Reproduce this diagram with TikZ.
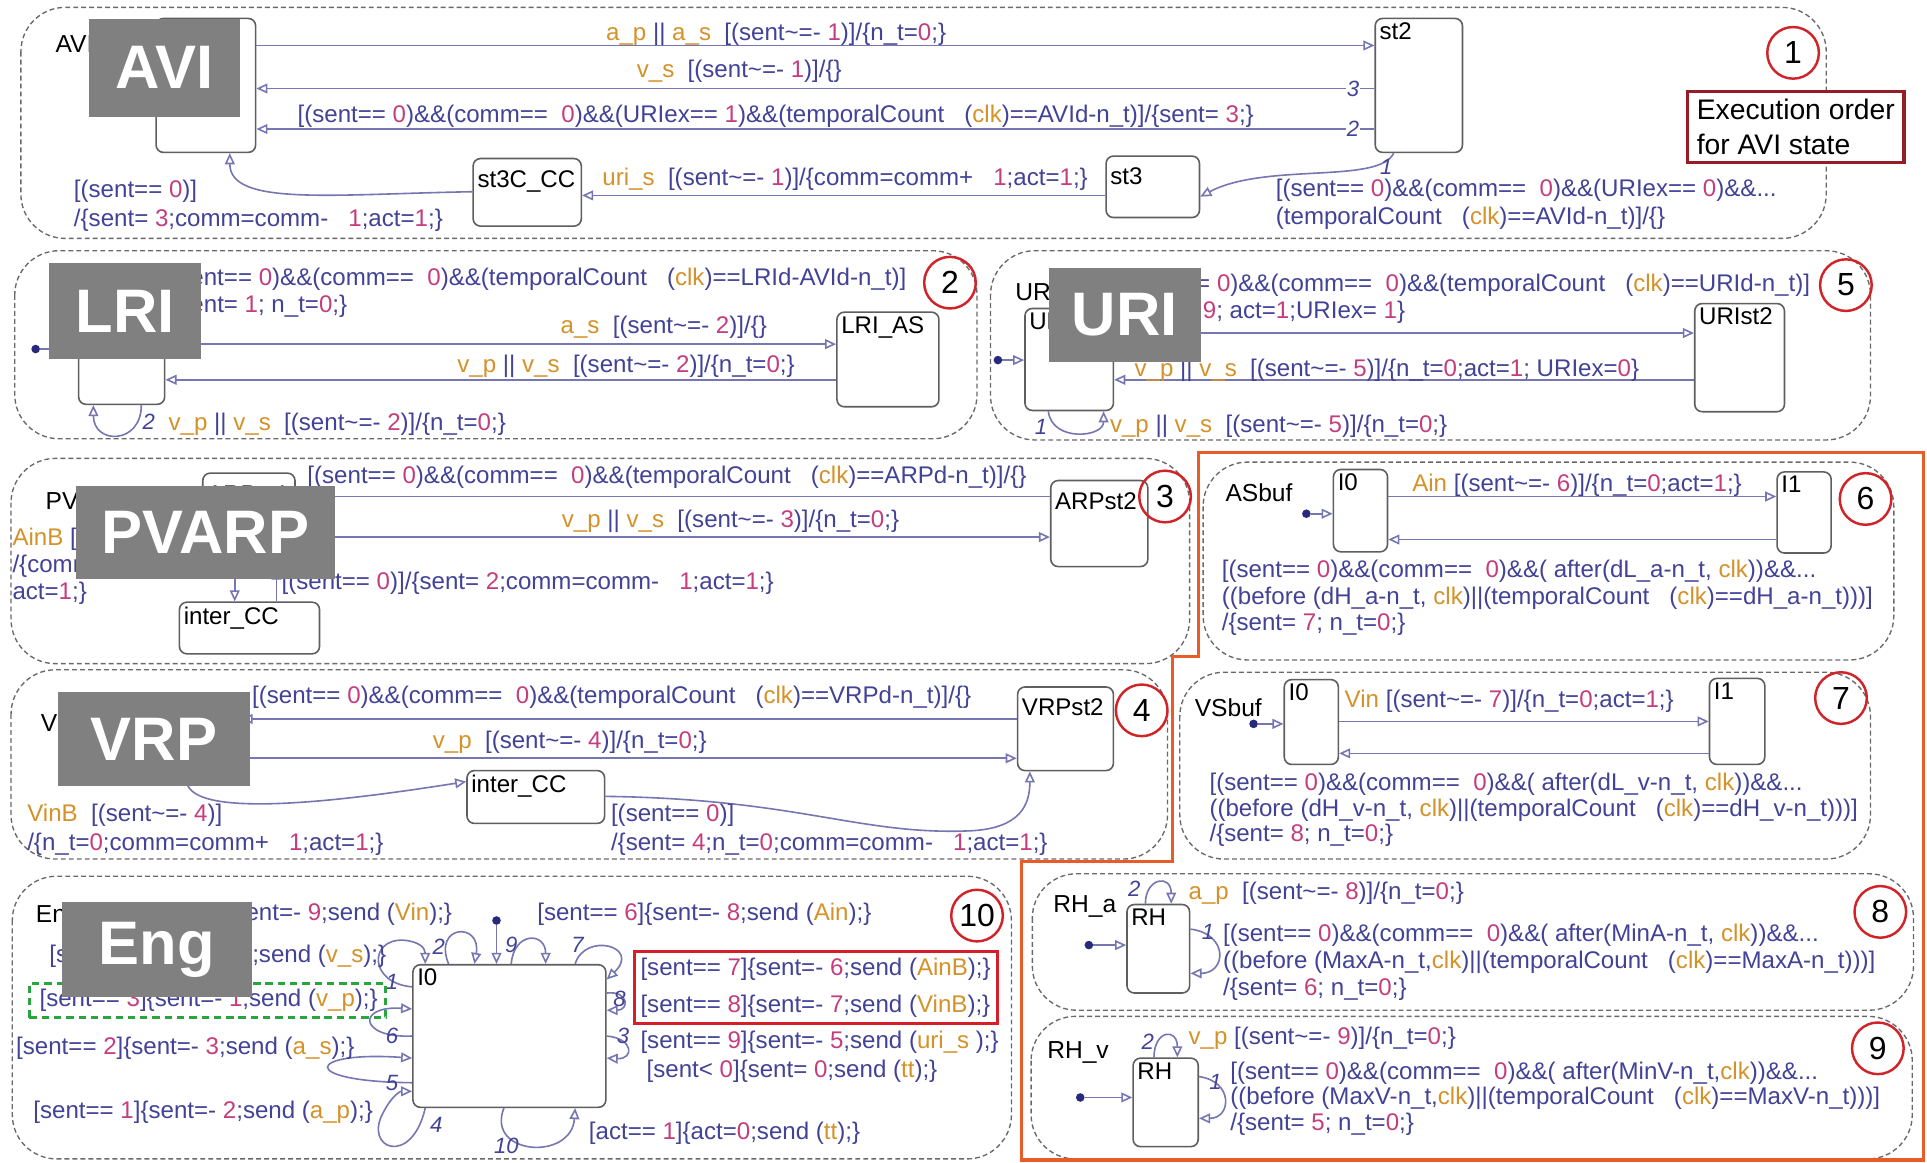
\documentclass[tikz,border=0pt]{standalone}
\usepackage{fontspec}
\setmainfont{Liberation Sans}
\usetikzlibrary{arrows.meta,fit}

\definecolor{txtb}{RGB}{66,66,150}
\definecolor{numc}{RGB}{196,62,126}
\definecolor{evc}{RGB}{212,146,42}
\definecolor{trc}{RGB}{118,118,178}
\definecolor{dashc}{RGB}{105,105,105}
\definecolor{stc}{RGB}{95,95,95}
\definecolor{ringc}{RGB}{208,36,40}
\definecolor{execc}{RGB}{150,28,40}
\definecolor{hlred}{RGB}{214,30,40}
\definecolor{frameor}{RGB}{232,92,40}
\definecolor{hlgreen}{RGB}{40,165,60}
\definecolor{tagc}{RGB}{128,128,128}
\definecolor{dotc}{RGB}{40,40,125}

\newcommand\ev[1]{\textcolor{evc}{#1}}
\newcommand\nm[1]{\textcolor{numc}{#1}}
\newcommand\tld{\textasciitilde}
\newcommand\lblsize{\fontsize{19.6}{23}\selectfont}

\tikzset{
  blk/.style={draw=dashc, line width=1.1pt, dash pattern=on 4pt off 2.5pt, rounded corners=36pt},
  stbox/.style={draw=stc, line width=1.3pt, rounded corners=6pt, fill=white, inner sep=0pt},
  stname/.style={anchor=north west, inner sep=4pt, font=\lblsize, text=black},
  tr/.style={draw=trc, line width=1.3pt, -{Triangle[open,length=9pt,width=8pt]}},
  lbl/.style={anchor=west, inner sep=0pt, font=\lblsize, text=txtb},
  ord/.style={inner sep=1pt, font=\fontsize{18}{18}\selectfont\itshape, text=txtb},
  num/.style={circle, draw=ringc, line width=2pt, minimum size=42pt, inner sep=0pt, font=\fontsize{26}{26}\selectfont, text=black},
  tag/.style={fill=tagc, text=white, inner sep=0pt, anchor=north west, font=\bfseries\fontsize{50}{50}\selectfont},
  initdot/.style={circle, fill=dotc, inner sep=0pt, minimum size=7pt},
  ttl/.style={anchor=west, inner sep=0pt, font=\fontsize{20}{20}\selectfont, text=black},
}

\begin{document}
\begin{tikzpicture}[x=1pt,y=-1pt]
\fill[white] (0,0) rectangle (1568,946);
\useasboundingbox (0,0) rectangle (1568,946);

% ---------------- AVI ----------------
\draw[blk] (17,6) rectangle (1486,194);
\node[ttl] (tAVI) at (45,36) {AVI};
\node[stbox, fit={(127,15) (208,124)}] (avi) {};
\node[stbox, fit={(1119,15) (1190,124)}] (st2) {};
\node[stname] (st2n) at (st2.north west) {st2};
\node[stbox, fit={(900,127) (976,177)}] (st3) {};
\node[stname] (st3n) at ([yshift=-6pt]st3.north west) {st3};
\node[stbox, fit={(385,129) (473,184)}] (st3cc) {};
\node[stname] (st3ccn) at ([yshift=-6pt]st3cc.north west) {st3C\_CC};

\draw[tr] (avi.east |- 0,37) -- (st2.west |- 0,37);
\draw[tr] (st2.west |- 0,72) -- (avi.east |- 0,72);
\draw[tr] (st2.west |- 0,105) -- (avi.east |- 0,105);
\draw[tr] (st2.south -| 1134,0) .. controls (1122,150) and (1030,132) .. (st3.east |- 0,160);
\draw[tr] (st3.west |- 0,159) -- (st3cc.east |- 0,159);
\draw[tr] (st3cc.west |- 0,156) .. controls (270,158) and (187,168) .. (avi.south -| 187,0);
\node[ord, fill=white] (o3) at (1101,72) {3};
\node[ord, fill=white] (o2) at (1101,105) {2};
\node[ord] (o1) at (1128,136) {1};

\node[lbl] (l1a) at (493,28) {\ev{a\_p} || \ev{a\_s}\ \ [(sent\tld=- \nm{1})]/\{n\_t=\nm{0};\}};
\node[lbl] (l1b) at (518,58) {\ev{v\_s}\ \ [(sent\tld=- \nm{1})]/\{\}};
\node[lbl] (l1c) at (242,95) {[(sent== \nm{0})\&\&(comm==\ \ \nm{0})\&\&(URIex== \nm{1})\&\&(temporalCount\ \ \ (\ev{clk})==AVId-n\_t)]/\{sent= \nm{3};\}};
\node[lbl] (l1d) at (490,146) {\ev{uri\_s}\ \ [(sent\tld=- \nm{1})]/\{comm=comm+\ \ \ \nm{1};act=\nm{1};\}};
\node[lbl] (l1e) at (1038,155) {[(sent== \nm{0})\&\&(comm==\ \ \nm{0})\&\&(URIex== \nm{0})\&\&...};
\node[lbl] (l1f) at (1038,178) {(temporalCount\ \ \ (\ev{clk})==AVId-n\_t)]/\{\}};
\node[lbl] (l1g) at (60,156) {[(sent== \nm{0})]};
\node[lbl] (l1h) at (60,179) {/\{sent= \nm{3};comm=comm-\ \ \ \nm{1};act=\nm{1};\}};
\node[num] (c1) at (1459,43) {1};
\node[draw=execc, fill=white, line width=2.5pt, anchor=north west, minimum width=176pt, minimum height=58pt,
      align=left, inner sep=4pt, font=\fontsize{23}{28}\selectfont, text=black] (exec) at (1372,73)
      {Execution order\\for AVI state};

% ---------------- LRI ----------------
\draw[blk] (12,204) rectangle (795,357);
\node[stbox, fit={(64,250) (134,329)}] (lri) {};
\node[stbox, fit={(681,254) (764,331)}] (lrias) {};
\node[stname] (lriasn) at (lrias.north west) {LRI\_AS};
\node[initdot] (d2) at (29,284) {};
\draw[tr] (d2) -- (lri.west |- d2);
\draw[tr] (lri.east |- 0,280) -- (lrias.west |- 0,280);
\draw[tr] (lrias.west |- 0,309) -- (lri.east |- 0,309);
\draw[tr] (lri.south -| 115,0) .. controls (115,362) and (76,362) .. (lri.south -| 76,0);
\node[ord] (o2b) at (121,343) {2};
\node[lbl] (l2t1) at (133,227) {[(sent== \nm{0})\&\&(comm==\ \ \nm{0})\&\&(temporalCount\ \ \ (\ev{clk})==LRId-AVId-n\_t)]};
\node[lbl] (l2t2) at (133,249) {/\{sent= \nm{1}; n\_t=\nm{0};\}};
\node[lbl] (l2a) at (456,266) {\ev{a\_s}\ \ [(sent\tld=- \nm{2})]/\{\}};
\node[lbl] (l2b) at (372,298) {\ev{v\_p} || \ev{v\_s}\ \ [(sent\tld=- \nm{2})]/\{n\_t=\nm{0};\}};
\node[lbl] (l2c) at (137,345) {\ev{v\_p} || \ev{v\_s}\ \ [(sent\tld=- \nm{2})]/\{n\_t=\nm{0};\}};
\node[num] (c2) at (773,230) {2};

% ---------------- URI ----------------
\draw[blk] (806,204) rectangle (1522,358);
\node[ttl] (tURI) at (826,238) {URI};
\node[stbox, fit={(834,251) (906,334)}] (uri) {};
\node[stname] (urin) at (uri.north west) {URIst1};
\node[stbox, fit={(1379,247) (1452,335)}] (urist2) {};
\node[stname] (urist2n) at (urist2.north west) {URIst2};
\node[initdot] (d5) at (812,293) {};
\draw[tr] (d5) -- (uri.west |- d5);
\draw[tr] (uri.east |- 0,271) -- (urist2.west |- 0,271);
\draw[tr] (urist2.west |- 0,309) -- (uri.east |- 0,309);
\draw[tr] (uri.south -| 853,0) .. controls (856,360) and (898,356) .. (uri.south -| 898,0);
\node[ord] (o1c) at (847,347) {1};
\node[lbl, anchor=east] (l5t1) at (1473,232) {[(sent== \nm{0})\&\&(comm==\ \ \nm{0})\&\&(temporalCount\ \ \ (\ev{clk})==URId-n\_t)]};
\node[lbl] (l5t2) at (l5t1.west |- 0,254) {/\{sent= \nm{9}; act=\nm{1};URIex= \nm{1}\}};
\node[lbl] (l5b) at (923,301) {\ev{v\_p} || \ev{v\_s}\ \ [(sent\tld=- \nm{5})]/\{n\_t=\nm{0};act=\nm{1}; URIex=\nm{0}\}};
\node[lbl] (l5c) at (903,347) {\ev{v\_p} || \ev{v\_s}\ \ [(sent\tld=- \nm{5})]/\{n\_t=\nm{0};\}};
\node[num] (c5) at (1502,232) {5};

% ---------------- PVARP ----------------
\draw[blk] (9,373) rectangle (968,540);
\node[ttl] (tPV) at (37,408) {PVARP};
\node[stbox, fit={(165,385) (240,462)}] (arp1) {};
\node[stname] (arp1n) at ([yshift=-7pt]arp1.north west) {ARPst1};
\node[stbox, fit={(855,391) (934,461)}] (arp2) {};
\node[stname] (arp2n) at ([yshift=-6pt]arp2.north west) {ARPst2};
\node[stbox, fit={(146,490) (260,532)}] (icc1) {};
\node[stname] (icc1n) at (icc1.north west) {inter\_CC};
\draw[tr] (arp2.west |- 0,404) -- (arp1.east |- 0,404);
\draw[tr] (arp1.east |- 0,437) -- (arp2.west |- 0,437);
\draw[tr] (arp1.south -| 191,0) -- (icc1.north -| 191,0);
\draw[tr] (icc1.north -| 225,0) -- (arp1.south -| 225,0);
\node[lbl] (l3a) at (250,388) {[(sent== \nm{0})\&\&(comm==\ \ \nm{0})\&\&(temporalCount\ \ \ (\ev{clk})==ARPd-n\_t)]/\{\}};
\node[lbl] (l3b) at (457,424) {\ev{v\_p} || \ev{v\_s}\ \ [(sent\tld=- \nm{3})]/\{n\_t=\nm{0};\}};
\node[lbl] (l3c) at (229,475) {[(sent== \nm{0})]/\{sent= \nm{2};comm=comm-\ \ \ \nm{1};act=\nm{1};\}};
\node[lbl] (l3d) at (10,439) {\ev{AinB} [(sent\tld=- \nm{3})]};
\node[lbl] (l3e) at (10,461) {/\{comm=comm+\ \ \ \nm{1};};
\node[lbl] (l3f) at (10,483) {act=\nm{1};\}};
\node[num] (c3) at (948,404) {3};

% ---------------- VRP ----------------
\draw[blk] (9,545) rectangle (950,699);
\node[ttl] (tVRP) at (33,588) {VRP};
\node[stbox, fit={(130,568) (196,636)}] (vrp) {};
\node[stbox, fit={(828,559) (906,627)}] (vrp2) {};
\node[stname] (vrp2n) at ([yshift=-6pt]vrp2.north west) {VRPst2};
\node[stbox, fit={(380,627) (492,670)}] (icc2) {};
\node[stname] (icc2n) at (icc2.north west) {inter\_CC};
\draw[tr] (vrp2.west |- 0,585) -- (vrp.east |- 0,585);
\draw[tr] (vrp.east |- 0,617) -- (vrp2.west |- 0,617);
\draw[tr] (vrp.south -| 152,0) .. controls (158,668) and (290,650) .. (icc2.west |- 0,636);
\draw[tr] (icc2.east |- 0,648) .. controls (650,650) and (700,680) .. (790,676) .. controls (830,674) and (838,655) .. (vrp2.south -| 838,0);
\node[lbl] (l4a) at (205,567) {[(sent== \nm{0})\&\&(comm==\ \ \nm{0})\&\&(temporalCount\ \ \ (\ev{clk})==VRPd-n\_t)]/\{\}};
\node[lbl] (l4b) at (352,604) {\ev{v\_p}\ \ [(sent\tld=- \nm{4})]/\{n\_t=\nm{0};\}};
\node[lbl] (l4c) at (22,663) {\ev{VinB}\ \ [(sent\tld=- \nm{4})]};
\node[lbl] (l4d) at (22,687) {/\{n\_t=\nm{0};comm=comm+\ \ \ \nm{1};act=\nm{1};\}};
\node[lbl] (l4e) at (497,663) {[(sent== \nm{0})]};
\node[lbl] (l4f) at (497,687) {/\{sent= \nm{4};n\_t=\nm{0};comm=comm-\ \ \ \nm{1};act=\nm{1};\}};
\node[num] (c4) at (929,578) {4};

% ---------------- Eng ----------------
\draw[blk] (10,713) rectangle (823,943);
\node[ttl] (tEng) at (29,746) {Eng};
\node[stbox, fit={(336,785) (493,901)}] (i0) {};
\node[stname] (i0n) at (i0.north west) {I0};
\node[initdot] (d10) at (404,749) {};
\draw[tr] (d10) -- (i0.north -| d10);
\draw[tr] (i0.west |- 0,803) .. controls (300,800) and (300,764) .. (328,765) .. controls (342,766) and (346,772) .. (i0.north -| 346,0);
\draw[tr] (i0.north -| 365,0) .. controls (352,752) and (392,750) .. (i0.north -| 386,0);
\draw[tr] (i0.north -| 416,0) .. controls (418,758) and (444,758) .. (i0.north -| 444,0);
\draw[tr] (i0.north -| 468,0) .. controls (476,758) and (522,770) .. (i0.east |- 0,797);
\draw[tr] (i0.east |- 0,808) .. controls (512,806) and (512,822) .. (i0.east |- 0,822);
\draw[tr] (i0.east |- 0,843) .. controls (516,845) and (516,862) .. (i0.east |- 0,861);
\draw[tr] (i0.west |- 0,843) .. controls (292,845) and (290,818) .. (i0.west |- 0,821);
\draw[tr] (i0.west |- 0,881) .. controls (240,880) and (250,855) .. (i0.west |- 0,861);
\draw[tr] (i0.south -| 346,0) .. controls (335,950) and (295,935) .. (312,905) .. controls (318,893) and (325,888) .. (i0.west |- 0,888);
\draw[tr] (i0.south -| 410,0) .. controls (395,940) and (465,945) .. (i0.south -| 468,0);
\node[ord] (e1) at (319,799) {1};
\node[ord] (e2) at (357,770) {2};
\node[ord] (e9) at (416,769) {9};
\node[ord] (e7) at (470,769) {7};
\node[ord] (e8) at (504,813) {8};
\node[ord] (e6) at (319,843) {6};
\node[ord] (e3) at (507,843) {3};
\node[ord] (e5) at (319,881) {5};
\node[ord] (e4) at (355,915) {4};
\node[ord] (e10) at (412,932) {10};

\node[lbl, anchor=east] (l10a) at (368,744) {[sent== \nm{5}]\{sent=- \nm{9};send (\ev{Vin});\}};
\node[lbl] (l10b) at (40,778) {[sent== \nm{4}]\{sent=- \nm{4};send (\ev{v\_s});\}};
\node[lbl] (l10c) at (32,814) {[sent== \nm{3}]\{sent=- \nm{1};send (\ev{v\_p});\}};
\node[draw=hlgreen, line width=2.5pt, dash pattern=on 6pt off 4pt, fit={(24,800) (314,828)}, inner sep=0pt] (gbox) {};
\node[lbl] (l10d) at (13,853) {[sent== \nm{2}]\{sent=- \nm{3};send (\ev{a\_s});\}};
\node[lbl] (l10e) at (27,905) {[sent== \nm{1}]\{sent=- \nm{2};send (\ev{a\_p});\}};
\node[lbl] (l10f) at (437,744) {[sent== \nm{6}]\{sent=- \nm{8};send (\ev{Ain});\}};
\node[lbl] (l10g) at (521,789) {[sent== \nm{7}]\{sent=- \nm{6};send (\ev{AinB});\}};
\node[lbl] (l10h) at (521,819) {[sent== \nm{8}]\{sent=- \nm{7};send (\ev{VinB});\}};
\node[draw=hlred, line width=2.5pt, fit={(516,774) (812,833)}, inner sep=0pt] (rbox) {};
\node[lbl] (l10i) at (521,848) {[sent== \nm{9}]\{sent=- \nm{5};send (\ev{uri\_s}\ );\}};
\node[lbl] (l10j) at (526,872) {[sent< \nm{0}]\{sent= \nm{0};send (\ev{tt});\}};
\node[lbl] (l10k) at (479,922) {[act== \nm{1}]\{act=\nm{0};send (\ev{tt});\}};
\node[num] (c10) at (795,745) {10};

% ---------------- ASbuf ----------------
\draw[blk] (979,376) rectangle (1541,537);
\node[ttl] (tAS) at (997,401) {ASbuf};
\node[stbox, fit={(1085,382) (1129,449)}] (a0) {};
\node[stname] (a0n) at (a0.north west) {I0};
\node[stbox, fit={(1446,384) (1490,450)}] (a1) {};
\node[stname] (a1n) at (a1.north west) {I1};
\node[initdot] (d6) at (1063,418) {};
\draw[tr] (d6) -- (a0.west |- d6);
\draw[tr] (a0.east |- 0,404) -- (a1.west |- 0,404);
\draw[tr] (a1.west |- 0,439) -- (a0.east |- 0,439);
\node[lbl] (l6a) at (1149,395) {\ev{Ain} [(sent\tld=- \nm{6})]/\{n\_t=\nm{0};act=\nm{1};\}};
\node[lbl] (l6b) at (994,465) {[(sent== \nm{0})\&\&(comm==\ \ \nm{0})\&\&( after(dL\_a-n\_t, \ev{clk}))\&\&...};
\node[lbl] (l6c) at (994,487) {((before (dH\_a-n\_t, \ev{clk})||(temporalCount\ \ \ (\ev{clk})==dH\_a-n\_t)))]};
\node[lbl] (l6d) at (994,508) {/\{sent= \nm{7}; n\_t=\nm{0};\}};
\node[num] (c6) at (1518,406) {6};

% ---------------- VSbuf ----------------
\draw[blk] (960,547) rectangle (1522,699);
\node[ttl] (tVS) at (972,576) {VSbuf};
\node[stbox, fit={(1045,553) (1089,622)}] (b0) {};
\node[stname] (b0n) at (b0.north west) {I0};
\node[stbox, fit={(1391,552) (1436,622)}] (b1) {};
\node[stname] (b1n) at (b1.north west) {I1};
\node[initdot] (d7) at (1020,589) {};
\draw[tr] (d7) -- (b0.west |- d7);
\draw[tr] (b0.east |- 0,587) -- (b1.west |- 0,587);
\draw[tr] (b1.west |- 0,613) -- (b0.east |- 0,613);
\node[lbl] (l7a) at (1094,571) {\ev{Vin} [(sent\tld=- \nm{7})]/\{n\_t=\nm{0};act=\nm{1};\}};
\node[lbl] (l7b) at (984,638) {[(sent== \nm{0})\&\&(comm==\ \ \nm{0})\&\&( after(dL\_v-n\_t, \ev{clk}))\&\&...};
\node[lbl] (l7c) at (984,659) {((before (dH\_v-n\_t, \ev{clk})||(temporalCount\ \ \ (\ev{clk})==dH\_v-n\_t)))]};
\node[lbl] (l7d) at (984,680) {/\{sent= \nm{8}; n\_t=\nm{0};\}};
\node[num] (c7) at (1498,568) {7};

% ---------------- RH_a ----------------
\draw[blk] (840,711) rectangle (1557,822);
\node[ttl] (tRHa) at (857,738) {RH\_a};
\node[stbox, fit={(917,736) (968,808)}] (rha) {};
\node[stname] (rhan) at (rha.north west) {RH};
\node[initdot] (d8) at (886,769) {};
\draw[tr] (d8) -- (rha.west |- d8);
\draw[tr] (rha.north -| 932,0) .. controls (932,714) and (953,711) .. (rha.north -| 953,0);
\draw[tr] (rha.east |- 0,756) .. controls (1000,760) and (998,792) .. (rha.east |- 0,792);
\node[ord] (r2a) at (923,723) {2};
\node[ord] (r1a) at (983,758) {1};
\node[lbl] (l8a) at (967,727) {\ev{a\_p}\ \ [(sent\tld=- \nm{8})]/\{n\_t=\nm{0};\}};
\node[lbl] (l8b) at (995,761) {[(sent== \nm{0})\&\&(comm==\ \ \nm{0})\&\&( after(MinA-n\_t, \ev{clk}))\&\&...};
\node[lbl] (l8c) at (995,783) {((before (MaxA-n\_t,\ev{clk})||(temporalCount\ \ \ (\ev{clk})==MaxA-n\_t)))]};
\node[lbl] (l8d) at (995,805) {/\{sent= \nm{6}; n\_t=\nm{0};\}};
\node[num] (c8) at (1530,742) {8};

% ---------------- RH_v ----------------
\draw[blk] (839,827) rectangle (1556,943);
\node[ttl] (tRHv) at (852,856) {RH\_v};
\node[stbox, fit={(922,861) (975,933)}] (rhv) {};
\node[stname] (rhvn) at (rhv.north west) {RH};
\node[initdot] (d9) at (879,893) {};
\draw[tr] (d9) -- (rhv.west |- d9);
\draw[tr] (rhv.north -| 939,0) .. controls (939,838) and (958,836) .. (rhv.north -| 958,0);
\draw[tr] (rhv.east |- 0,876) .. controls (1004,880) and (1002,910) .. (rhv.east |- 0,910);
\node[ord] (r2v) at (934,848) {2};
\node[ord] (r1v) at (989,880) {1};
\node[lbl] (l9a) at (967,845) {\ev{v\_p} [(sent\tld=- \nm{9})]/\{n\_t=\nm{0};\}};
\node[lbl] (l9b) at (1001,873) {[(sent== \nm{0})\&\&(comm==\ \ \nm{0})\&\&( after(MinV-n\_t,\ev{clk}))\&\&...};
\node[lbl] (l9c) at (1001,894) {((before (MaxV-n\_t,\ev{clk})||(temporalCount\ \ \ (\ev{clk})==MaxV-n\_t)))]};
\node[lbl] (l9d) at (1001,915) {/\{sent= \nm{5}; n\_t=\nm{0};\}};
\node[num] (c9) at (1528,853) {9};

% frame around the buffer and heart charts
\draw[frameor, line width=2.8pt, line join=miter] (975,368) -- (1565,368) -- (1565,944) -- (831,944) -- (831,701) -- (954,701) -- (954,534) -- (975,534) -- cycle;

% grey chart tags
\node[tag, minimum width=123pt, minimum height=80pt] (gAVI) at (72,15) {AVI};
\node[tag, minimum width=123pt, minimum height=78pt] (gLRI) at (40,214) {LRI};
\node[tag, minimum width=124pt, minimum height=76pt] (gURI) at (853,218) {URI};
\node[tag, minimum width=210pt, minimum height=76pt] (gPV) at (62,395) {PVARP};
\node[tag, minimum width=156pt, minimum height=76pt] (gVRP) at (47,563) {VRP};
\node[tag, minimum width=155pt, minimum height=77pt] (gEng) at (50,734) {Eng};
\end{tikzpicture}
\end{document}
